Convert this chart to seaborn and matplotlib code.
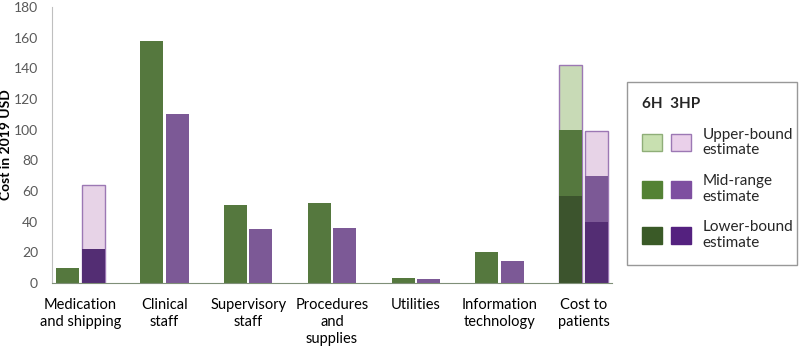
import numpy as np
import pandas as pd
import matplotlib
matplotlib.use("Agg")
import matplotlib.pyplot as plt
import seaborn as sns
from matplotlib.patches import Patch
from matplotlib.legend_handler import HandlerTuple

# Data
categories = ["Medication\nand shipping", "Clinical\nstaff", "Supervisory\nstaff",
              "Procedures\nand\nsupplies", "Utilities", "Information\ntechnology",
              "Cost to\npatients"]
regimens = ["6H", "3HP"]

upper_6h = [np.nan, np.nan, np.nan, np.nan, np.nan, np.nan, 142]
mid_6h = [10, 158, 51, 52, 3.5, 20, 100]
lower_6h = [np.nan, np.nan, np.nan, np.nan, np.nan, np.nan, 57]

upper_3hp = [64, np.nan, np.nan, np.nan, np.nan, np.nan, 99]
mid_3hp = [np.nan, 110, 35, 36, 2.5, 14, 70]
lower_3hp = [22, np.nan, np.nan, np.nan, np.nan, np.nan, 40]

df = pd.DataFrame({
    "category": categories * 2,
    "regimen": ["6H"] * 7 + ["3HP"] * 7,
    "upper": upper_6h + upper_3hp,
    "mid": mid_6h + mid_3hp,
    "lower": lower_6h + lower_3hp,
})

colors = {
    "upper": {"6H": "#c8e0b0", "3HP": "#ead0ea"},
    "mid": {"6H": "#538234", "3HP": "#7e4fa0"},
    "lower": {"6H": "#3a5a27", "3HP": "#54217f"},
}
edges = {"6H": "#8fae78", "3HP": "#9c78b4"}

sns.set_style("white")
plt.rcParams["font.family"] = ["Lato", "DejaVu Sans"]

fig = plt.figure(figsize=(8, 3.51), dpi=100)
ax = fig.add_axes([0.065, 0.194, 0.70, 0.786])

for layer in ["upper", "mid", "lower"]:
    n_before = len(ax.patches)
    sub = df.dropna(subset=[layer])
    sns.barplot(data=sub, x="category", y=layer, hue="regimen", order=categories,
                hue_order=regimens, palette=colors[layer], width=0.61, gap=0.1,
                errorbar=None, legend=False, linewidth=0, ax=ax)
    if layer == "upper":
        for p in ax.patches[n_before:]:
            fc = matplotlib.colors.to_hex(p.get_facecolor())
            reg = "6H" if fc == colors["upper"]["6H"] else "3HP"
            p.set_edgecolor(edges[reg])
            p.set_linewidth(1.0)

ax.set_xlim(-0.34, 6.34)
ax.set_ylim(0, 180)
ax.set_yticks(range(0, 181, 20))
ax.set_xlabel("")
ax.set_ylabel("Cost in 2019 USD", fontsize=10, fontweight="bold", color="black")
ax.yaxis.set_label_coords(-0.072, 0.5)
ax.tick_params(axis="y", labelsize=10, labelcolor="#595959", length=0, pad=10)
ax.tick_params(axis="x", labelsize=10.5, labelcolor="black", length=0, pad=11)
for lab in ax.get_xticklabels():
    lab.set_linespacing(1.25)
for s in ["top", "right"]:
    ax.spines[s].set_visible(False)
ax.spines["left"].set_color("#bfbfbf")
ax.spines["bottom"].set_color("#7f8f78")

handles = []
for layer in ["upper", "mid", "lower"]:
    handles.append((Patch(facecolor=colors[layer]["6H"],
                          edgecolor=edges["6H"] if layer == "upper" else colors[layer]["6H"]),
                    Patch(facecolor=colors[layer]["3HP"],
                          edgecolor=edges["3HP"] if layer == "upper" else colors[layer]["3HP"])))
labels = ["Upper-bound\nestimate", "Mid-range\nestimate", "Lower-bound\nestimate"]
leg = fig.legend(handles, labels, handler_map={tuple: HandlerTuple(ndivide=None, pad=0.59)},
                 loc="center", bbox_to_anchor=(0.784, 0.231, 0.212, 0.55),
                 mode="expand", borderaxespad=0, frameon=True, fancybox=False,
                 edgecolor="#7f7f7f", title="6H  3HP", alignment="left", fontsize=11,
                 handlelength=3.2, handleheight=1.3, labelspacing=1.1,
                 borderpad=0.95, handletextpad=0.78)
leg.get_title().set_fontweight("bold")
leg.get_title().set_fontsize(11)
leg.get_frame().set_linewidth(1.0)
for t in leg.get_texts():
    t.set_color("#262626")
    t.set_linespacing(1.15)

fig.savefig("out.png", dpi=100)
